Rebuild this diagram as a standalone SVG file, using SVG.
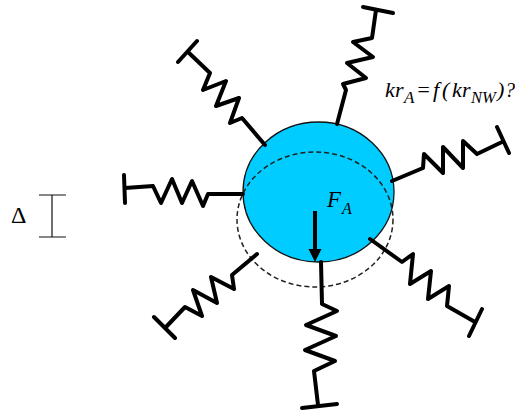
<svg xmlns="http://www.w3.org/2000/svg" width="515" height="415" viewBox="0 0 515 415">
<style>
.s{fill:none;stroke:#000;stroke-width:4;stroke-linejoin:round;stroke-linecap:round}
.t{font-family:"Liberation Serif",serif;fill:#000}
.i{font-style:italic}
</style>
<rect width="515" height="415" fill="#fff"/>
<g id="ball"><ellipse cx="318.5" cy="192" rx="75.500" ry="70" fill="#00ccff" stroke="#111" stroke-width="1.300"/></g>
<g id="displaced"><ellipse cx="315" cy="219.500" rx="78" ry="67.500" fill="none" stroke="#222" stroke-width="1.500" stroke-dasharray="5 3"/></g>
<g id="connectors">
<path class="s" d="M265 145L242 118L230 123L239 98L216 106L226 81L203 90L210 73L188 52M178 62L197 41"/>
<path class="s" d="M337 124L346 90L343 84L366 78L347 63L373 57L353 42L372 38L376 10M363 7L393 13"/>
<path class="s" d="M392 181L423 168L424 154L443 173L443 147L463 168L463 141L477 154L502 142M497 127L509 153"/>
<path class="s" d="M243 194H208L203 206L192 181L182 203L172 179L161 203L153 186L125 188M124 175L125 203"/>
<path class="s" d="M370 239L402 262L413 254L410 284L431 271L428 299L449 286L447 306L475 322M482 309L469 336"/>
<path class="s" d="M321 262L322 304L337 311L306 325L336 336L305 350L335 361L314 371L318 405M302 408L337 404"/>
<path class="s" d="M257 254L232 275L234 289L211 277L217 303L193 290L202 316L185 307L166 327M154 317L175 338"/>
</g>
<g id="force"><path d="M315 211V250" stroke="#000" stroke-width="4" fill="none"/><path d="M308.500 249H321.500L315 262Z" fill="#000"/></g>
<g id="delta-bar"><path d="M52 195V237M39 195H66M39 237H66" fill="none" stroke="#111" stroke-width="1.200"/></g>
<g id="labels">
<text class="t" x="11" y="223" font-size="24">Δ</text>
<text class="t i" font-size="23"><tspan x="327" y="207">F</tspan><tspan x="342" y="214" font-size="16">A</tspan></text>
<text class="t i" font-size="22"><tspan x="385" y="97">k</tspan><tspan x="395" y="97">r</tspan><tspan x="404" y="103" font-size="17">A</tspan><tspan x="416" y="97">=</tspan><tspan x="433" y="97">f</tspan><tspan x="442" y="97">(</tspan><tspan x="452" y="97">k</tspan><tspan x="462" y="97">r</tspan><tspan x="471" y="103" font-size="16.500">NW</tspan><tspan x="497" y="97">)</tspan><tspan x="505" y="97" font-size="20">?</tspan></text>
</g>
</svg>
